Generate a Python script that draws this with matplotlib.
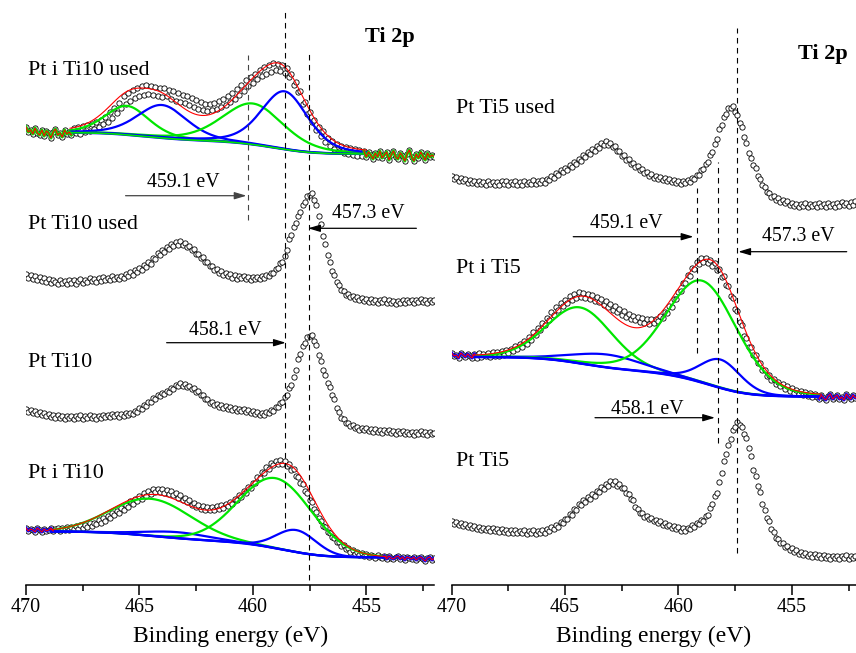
import numpy as np
import matplotlib
matplotlib.use('Agg')
import matplotlib.pyplot as plt
from matplotlib.ticker import MultipleLocator

plt.rcParams['font.family'] = ['Liberation Serif', 'DejaVu Serif']

# binding energy of every recorded point (eV), 0.1 eV steps from 470 to 452
energy = np.round(np.arange(470.0, 451.95, -0.1), 2)

# stacked intensities (arb. units, offsets included) - left panel, top to bottom
pt_i_ti10_used = [458, 453, 455, 451, 457, 452, 450, 455, 449, 454,
                  452, 447, 453, 456, 450, 452, 448, 455, 451, 453,
                  450, 457, 452, 458, 451, 459, 453, 460, 454, 461,
                  456, 463, 458, 465, 461, 468, 463, 473, 467, 477,
                  472, 482, 477, 489, 481, 492, 484, 495, 487, 497,
                  489, 499, 490, 500, 491, 499, 490, 498, 489, 497,
                  488, 497, 489, 495, 486, 494, 484, 492, 483, 490,
                  482, 489, 480, 487, 478, 485, 476, 483, 475, 481,
                  474, 481, 475, 482, 476, 484, 478, 486, 480, 489,
                  483, 492, 486, 496, 490, 500, 494, 505, 499, 508,
                  502, 511, 506, 515, 509, 518, 511, 520, 513, 522,
                  515, 521, 514, 520, 512, 517, 508, 511, 500, 503,
                  493, 494, 481, 483, 471, 473, 463, 465, 455, 458,
                  449, 454, 443, 447, 439, 444, 436, 441, 434, 439,
                  432, 438, 431, 437, 430, 436, 429, 435, 429, 434,
                  428, 433, 430, 426, 432, 428, 434, 427, 430, 433,
                  425, 430, 434, 428, 426, 432, 429, 424, 431, 435,
                  428, 424, 431, 427, 433, 429, 425, 432, 428, 430,
                  428]
pt_ti10_used = [311, 307, 310, 306, 309, 305, 308, 304, 307, 303,
                306, 302, 305, 303, 301, 305, 302, 304, 301, 305,
                302, 305, 301, 304, 306, 302, 305, 303, 307, 304,
                306, 303, 307, 304, 308, 305, 307, 305, 309, 306,
                308, 306, 309, 307, 311, 309, 313, 310, 315, 313,
                317, 315, 320, 318, 323, 321, 327, 326, 332, 330,
                335, 333, 338, 336, 341, 339, 343, 340, 344, 340,
                342, 338, 339, 335, 336, 331, 331, 327, 328, 323,
                323, 319, 319, 315, 316, 312, 314, 310, 312, 309,
                311, 307, 310, 306, 309, 307, 309, 306, 308, 305,
                308, 306, 308, 306, 309, 307, 310, 309, 312, 312,
                316, 317, 322, 323, 329, 335, 346, 350, 358, 362,
                369, 373, 380, 383, 389, 390, 392, 385, 380, 369,
                361, 349, 341, 330, 323, 314, 310, 303, 300, 295,
                294, 290, 291, 288, 289, 286, 288, 285, 287, 284,
                286, 283, 286, 283, 285, 282, 285, 283, 286, 282,
                285, 282, 284, 281, 284, 282, 285, 282, 285, 283,
                285, 282, 285, 283, 286, 283, 285, 282, 285, 283,
                285]
pt_ti10 = [176, 173, 175, 172, 174, 171, 173, 170, 172, 169,
           171, 168, 170, 167, 170, 167, 169, 166, 169, 167,
           169, 166, 169, 167, 170, 166, 169, 167, 170, 167,
           169, 166, 169, 167, 170, 168, 170, 168, 171, 169,
           171, 168, 171, 169, 172, 170, 172, 171, 174, 173,
           177, 176, 180, 179, 183, 183, 187, 186, 190, 189,
           192, 191, 194, 193, 197, 196, 200, 199, 202, 199,
           201, 198, 199, 196, 197, 193, 194, 190, 190, 186,
           186, 182, 183, 180, 181, 178, 180, 177, 179, 176,
           178, 175, 177, 174, 176, 174, 176, 173, 175, 172,
           174, 171, 173, 170, 172, 170, 173, 172, 175, 174,
           178, 178, 182, 183, 188, 190, 197, 200, 208, 215,
           226, 231, 239, 242, 248, 249, 250, 244, 240, 230,
           224, 215, 210, 202, 198, 190, 186, 177, 173, 167,
           166, 162, 162, 159, 160, 157, 158, 155, 157, 155,
           157, 154, 156, 153, 156, 153, 155, 152, 155, 153,
           155, 152, 154, 151, 154, 152, 154, 151, 153, 151,
           153, 150, 153, 151, 154, 151, 153, 150, 153, 151,
           152]
pt_i_ti10 = [57, 54, 56, 55, 53, 57, 55, 53, 56, 54,
             55, 57, 54, 56, 57, 54, 57, 55, 58, 55,
             58, 56, 59, 56, 60, 57, 60, 58, 62, 59,
             62, 61, 65, 62, 67, 64, 69, 67, 72, 70,
             74, 72, 77, 75, 80, 78, 84, 81, 86, 84,
             89, 86, 92, 89, 94, 91, 96, 93, 96, 93,
             96, 92, 95, 91, 94, 90, 92, 87, 90, 85,
             87, 83, 85, 80, 82, 78, 80, 76, 79, 75,
             78, 75, 78, 75, 79, 76, 80, 77, 81, 79,
             83, 81, 86, 85, 90, 88, 94, 92, 98, 97,
             102, 102, 108, 107, 113, 112, 118, 116, 122, 120,
             124, 121, 125, 121, 124, 119, 121, 115, 116, 109,
             108, 102, 101, 94, 92, 85, 83, 76, 73, 67,
             64, 59, 58, 53, 52, 48, 47, 43, 43, 39,
             40, 36, 37, 33, 35, 31, 33, 30, 32, 29,
             31, 28, 30, 29, 27, 30, 28, 27, 29, 26,
             29, 27, 26, 28, 29, 26, 28, 25, 28, 27,
             26, 28, 25, 27, 28, 26, 24, 27, 28, 25,
             27]

# right panel, top to bottom
pt_ti5_used = [409, 406, 408, 404, 407, 404, 406, 402, 405, 402,
               404, 401, 404, 401, 403, 400, 404, 401, 403, 400,
               403, 400, 404, 401, 404, 400, 403, 401, 404, 400,
               403, 400, 404, 401, 403, 401, 405, 401, 404, 402,
               405, 402, 406, 405, 409, 407, 412, 410, 415, 413,
               417, 415, 420, 418, 423, 421, 426, 424, 430, 428,
               433, 431, 436, 434, 439, 437, 442, 440, 444, 440,
               442, 438, 439, 434, 434, 429, 430, 425, 426, 421,
               422, 418, 419, 415, 416, 412, 413, 409, 411, 407,
               409, 406, 408, 405, 407, 404, 406, 403, 405, 402,
               404, 401, 404, 402, 405, 403, 407, 406, 410, 410,
               415, 416, 421, 423, 430, 433, 441, 446, 456, 460,
               468, 471, 477, 477, 479, 473, 470, 462, 458, 448,
               442, 432, 427, 420, 417, 409, 406, 400, 398, 393,
               392, 388, 389, 385, 387, 383, 385, 382, 384, 380,
               382, 379, 381, 378, 381, 379, 382, 378, 381, 379,
               381, 378, 382, 379, 381, 378, 382, 379, 381, 378,
               382, 379, 383, 380, 382, 379, 383, 380, 384, 381,
               383]
pt_i_ti5 = [232, 229, 230, 227, 232, 230, 228, 231, 229, 227,
            231, 227, 232, 228, 231, 229, 232, 228, 233, 229,
            233, 229, 234, 230, 235, 232, 236, 234, 239, 236,
            241, 238, 244, 241, 248, 245, 253, 250, 257, 255,
            262, 260, 267, 265, 273, 270, 278, 275, 282, 279,
            285, 282, 289, 285, 291, 287, 293, 288, 292, 287,
            291, 286, 290, 284, 288, 283, 286, 280, 284, 278,
            281, 275, 279, 273, 276, 270, 274, 268, 271, 266,
            269, 265, 268, 263, 267, 262, 266, 261, 266, 262,
            266, 264, 269, 267, 273, 272, 279, 278, 286, 286,
            293, 294, 302, 302, 310, 309, 317, 316, 323, 321,
            327, 323, 327, 322, 325, 319, 322, 315, 316, 308,
            309, 300, 299, 289, 287, 276, 274, 263, 260, 249,
            247, 238, 238, 230, 230, 222, 222, 215, 215, 209,
            210, 205, 206, 201, 203, 199, 201, 196, 199, 194,
            197, 192, 195, 191, 194, 190, 193, 189, 192, 188,
            191, 188, 186, 190, 187, 185, 189, 191, 186, 188,
            190, 186, 188, 185, 191, 188, 186, 190, 187, 189,
            188]
pt_ti5 = [64, 61, 63, 60, 62, 59, 61, 58, 60, 57,
          59, 56, 58, 55, 57, 55, 57, 54, 57, 54,
          56, 53, 56, 53, 55, 52, 55, 52, 55, 52,
          54, 52, 55, 51, 54, 52, 55, 51, 54, 52,
          55, 52, 56, 54, 58, 56, 60, 58, 63, 62,
          66, 66, 71, 70, 76, 75, 81, 80, 85, 83,
          88, 86, 91, 89, 94, 93, 98, 96, 101, 99,
          104, 101, 104, 99, 101, 97, 97, 92, 91, 86,
          85, 78, 76, 72, 72, 68, 69, 66, 67, 64,
          65, 62, 64, 60, 62, 59, 60, 57, 59, 56,
          58, 54, 57, 54, 57, 56, 60, 58, 62, 61,
          65, 64, 69, 70, 77, 81, 89, 92, 103, 112,
          124, 131, 140, 146, 155, 158, 163, 160, 158, 151,
          147, 137, 129, 115, 109, 99, 93, 81, 75, 67,
          64, 56, 53, 47, 46, 42, 42, 38, 39, 35,
          37, 33, 35, 31, 33, 30, 32, 29, 31, 28,
          31, 28, 30, 27, 30, 27, 29, 26, 29, 27,
          29, 26, 29, 27, 30, 26, 29, 27, 29, 26,
          28]

# fitted components: (centre eV, height, fwhm eV, colour)
GREEN = '#00e600'
BLUE = '#0000ff'
comps_i_ti10_used = [(465.55, 29, 2.3, GREEN), (464.0, 33, 2.6, BLUE),
                     (460.0, 41, 3.2, GREEN), (458.6, 58, 2.45, BLUE)]
comps_i_ti10 = [(464.5, 37, 4.2, GREEN), (463.3, 6, 3.3, BLUE),
                (459.0, 70, 3.8, GREEN), (458.08, 22, 2.06, BLUE)]
comps_i_ti5 = [(464.35, 56, 3.4, GREEN), (463.1, 13, 3.6, BLUE),
               (458.95, 102, 3.7, GREEN), (458.15, 28.5, 2.1, BLUE)]
# lorentzian fraction of the peak shape
mix_i_ti10_used, mix_i_ti10, mix_i_ti5 = 0.35, 0.0, 0.15
# fit window (low eV, high eV) and Shirley background end levels (low side, high side)
window_i_ti10_used, bg_i_ti10_used = (455.0, 468.06), (431.0, 452.3)
window_i_ti10, bg_i_ti10 = (454.1, 468.9), (27.7, 53.5)
window_i_ti5, bg_i_ti5 = (453.7, 469.1), (188.3, 228.0)


def peak(e, c, h, w, m):
    x = (e - c) / w
    return h * ((1 - m) * np.exp(-4 * np.log(2) * x ** 2) + m / (1 + 4 * x ** 2))


def draw_fit(ax, y, comps, mix, window, bg_ends, edge_col, bg_col):
    y = np.asarray(y, float)
    lo, hi = window
    ef = np.linspace(lo, hi, 600)
    peaks = [peak(ef, c, h, w, mix) for c, h, w, col in comps]
    total = np.sum(peaks, axis=0)
    cum = np.concatenate([[0], np.cumsum((total[1:] + total[:-1]) / 2 * np.diff(ef))])
    bg = bg_ends[0] + (bg_ends[1] - bg_ends[0]) * cum / cum[-1]
    for p, comp in zip(peaks, comps):
        ax.plot(ef, bg + p, color=comp[3], lw=1.6, zorder=3)
    ax.plot(ef, bg, color=BLUE, lw=1.7, zorder=3)
    ax.plot(ef, bg, color=bg_col, lw=1.2, zorder=3)
    ax.plot(ef, bg + total, color='red', lw=0.8, zorder=4)
    # outside the window the raw data is drawn as lines (as in the original)
    for m in (energy >= hi - 0.1, energy <= lo + 0.1):
        ax.plot(energy[m], y[m], color=edge_col, lw=2.2, zorder=3)
        ax.plot(energy[m], y[m], color='red', lw=0.8, zorder=4)


def points(ax, y):
    ax.plot(energy, y, 'o', ms=3.8, mfc='white', mec='black', mew=0.6, zorder=2)


def arrow(ax, x0, x1, y, col='black'):
    ax.annotate('', xy=(x1, y), xytext=(x0, y),
                arrowprops=dict(arrowstyle='-|>,head_length=0.6,head_width=0.18',
                                mutation_scale=12, color=col, lw=0.9,
                                shrinkA=0, shrinkB=0))


def dashed(ax, x, y0, y1, col='black'):
    ax.vlines(x, y0, y1, colors=col, linestyles=(0, (5, 4)), lw=0.8, zorder=5)


fig = plt.figure(figsize=(8.56, 6.53), dpi=100)
axl = fig.add_axes([26 / 856, 68 / 653, 408.3 / 856, 585 / 653])
axr = fig.add_axes([451.7 / 856, 68 / 653, 404.3 / 856, 585 / 653])

for ax, xmin in ((axl, 452.0), (axr, 452.17)):
    ax.set_xlim(470, xmin)
    ax.set_ylim(0, 585)
    for s in ('left', 'right', 'top'):
        ax.spines[s].set_visible(False)
    ax.spines['bottom'].set_linewidth(1.1)
    ax.set_yticks([])
    ax.xaxis.set_major_locator(MultipleLocator(5))
    ax.xaxis.set_minor_locator(MultipleLocator(2.5))
    ax.tick_params(axis='x', which='major', direction='out', length=7, width=1.1,
                   labelsize=14.4, pad=2.5)
    ax.tick_params(axis='x', which='minor', direction='out', length=4, width=1.1)
    ax.set_xlabel('Binding energy (eV)', fontsize=17, labelpad=6)
    ax.patch.set_visible(False)

# left panel
for y in (pt_i_ti10_used, pt_ti10_used, pt_ti10, pt_i_ti10):
    points(axl, y)
draw_fit(axl, pt_i_ti10_used, comps_i_ti10_used, mix_i_ti10_used,
         window_i_ti10_used, bg_i_ti10_used, GREEN, GREEN)
draw_fit(axl, pt_i_ti10, comps_i_ti10, mix_i_ti10, window_i_ti10, bg_i_ti10, BLUE, BLUE)

lab = dict(fontsize=15.8, ha='left', va='baseline')
axl.text(469.91, 510, 'Pt i Ti10 used', **lab)
axl.text(469.91, 355.7, 'Pt Ti10 used', **lab)
axl.text(469.91, 217.7, 'Pt Ti10', **lab)
axl.text(469.91, 106.7, 'Pt i Ti10', **lab)
axl.text(453.96, 542.7, 'Ti 2p', fontsize=16, fontweight='bold', ha='center', va='baseline')

ann = dict(fontsize=14.3, ha='center', va='baseline')
axl.text(463.07, 397.7, '459.1 eV', **ann)
axl.text(454.92, 366.7, '457.3 eV', **ann)
axl.text(461.20, 250, '458.1 eV', **ann)
arrow(axl, 465.61, 460.28, 389.3, '#444444')
arrow(axl, 452.79, 457.56, 356.7)
arrow(axl, 463.80, 458.55, 242.3)
dashed(axl, 460.23, 365, 530, '#444444')
dashed(axl, 458.56, 57, 575)
dashed(axl, 457.52, 5, 532)

# right panel
for y in (pt_ti5_used, pt_i_ti5, pt_ti5):
    points(axr, y)
draw_fit(axr, pt_i_ti5, comps_i_ti5, mix_i_ti5, window_i_ti5, bg_i_ti5, BLUE, BLUE)

axr.text(469.79, 471.7, 'Pt Ti5 used', **lab)
axr.text(469.79, 311.7, 'Pt i Ti5', **lab)
axr.text(469.79, 119, 'Pt Ti5', **lab)
axr.text(453.61, 525.7, 'Ti 2p', fontsize=16, fontweight='bold', ha='center', va='baseline')

axr.text(462.28, 356.7, '459.1 eV', **ann)
axr.text(454.71, 344.3, '457.3 eV', **ann)
axr.text(461.36, 171, '458.1 eV', **ann)
arrow(axr, 464.64, 459.34, 348.3)
arrow(axr, 452.58, 457.36, 333.3)
arrow(axr, 463.68, 458.39, 167.3)
dashed(axr, 457.43, 32, 557)
dashed(axr, 458.24, 142, 423)
dashed(axr, 459.19, 232, 397)

fig.savefig('out.png', dpi=100)
